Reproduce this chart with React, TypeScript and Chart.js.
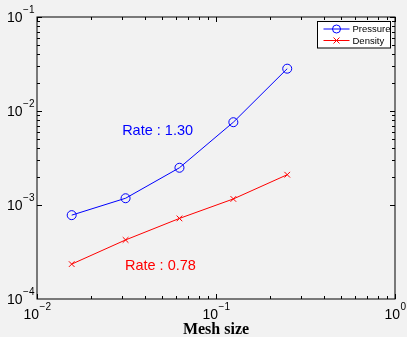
import React, { useEffect, useRef } from "react";
import { Chart, registerables } from "chart.js";

Chart.register(...registerables);

// ---- data ----
const meshSizes = [1 / 64, 1 / 32, 1 / 16, 1 / 8, 1 / 4];
const pressureErrors = [7.8e-4, 1.18e-3, 2.49e-3, 7.6e-3, 2.82e-2];
const densityErrors = [2.35e-4, 4.25e-4, 7.2e-4, 1.16e-3, 2.1e-3];
const seriesLabels = ["Pressure", "Density"];
const xTickExponents = [-2, -1, 0];
const yTickExponents = [-4, -3, -2, -1];
const xTitle = "Mesh size";
const rateTexts = ["Rate : 1.30", "Rate : 0.78"];
const rateAnchorX = [0.0299, 0.031];
const rateAnchorY = [6.1e-3, 2.26e-4];

// ---- styles ----
const BLUE = "#0000ff";
const RED = "#ff0000";
const BG = "#f2f2f2";
const SANS = "'Liberation Sans', Arial, Helvetica, sans-serif";
const SERIF = "'Liberation Serif', 'Times New Roman', serif";

function drawPowerLabel(ctx: CanvasRenderingContext2D, exp: number, x: number, baseY: number, align: "center" | "right") {
  const base = "10";
  const sup = exp < 0 ? "\u2212" + Math.abs(exp) : String(exp);
  ctx.font = `14px ${SANS}`;
  const wb = ctx.measureText(base).width;
  ctx.font = `10px ${SANS}`;
  const ws = ctx.measureText(sup).width;
  const total = wb + ws;
  const left = align === "center" ? x - total / 2 : x - total;
  ctx.textAlign = "left";
  ctx.textBaseline = "alphabetic";
  ctx.font = `14px ${SANS}`;
  ctx.fillText(base, left, baseY);
  ctx.font = `10px ${SANS}`;
  ctx.fillText(sup, left + wb + 0.5, baseY - 9.5);
}

const matlabPlugin = {
  id: "matlabStyle",
  beforeDraw(chart: any) {
    const ctx = chart.ctx as CanvasRenderingContext2D;
    ctx.save();
    ctx.fillStyle = BG;
    ctx.fillRect(0, 0, chart.width, chart.height);
    ctx.restore();
  },
  afterDraw(chart: any) {
    const ctx = chart.ctx as CanvasRenderingContext2D;
    const a = chart.chartArea;
    const xs = chart.scales.x;
    const ys = chart.scales.y;
    ctx.save();
    ctx.strokeStyle = "#000";
    ctx.lineWidth = 1;
    ctx.strokeRect(a.left, a.top, a.right - a.left, a.bottom - a.top);

    // ticks (inward, all four sides)
    ctx.beginPath();
    for (let e = -3; e <= 1; e++) {
      for (let m = 1; m <= 9; m++) {
        const v = m * Math.pow(10, e);
        if (v >= xs.min * 0.9999 && v <= xs.max * 1.0001) {
          const px = Math.round(xs.getPixelForValue(v)) + 0.5;
          const len = m === 1 ? 5 : 3;
          ctx.moveTo(px, a.bottom);
          ctx.lineTo(px, a.bottom - len);
          ctx.moveTo(px, a.top);
          ctx.lineTo(px, a.top + len);
        }
        if (v >= ys.min * 0.9999 && v <= ys.max * 1.0001) {
          const py = Math.round(ys.getPixelForValue(v)) + 0.5;
          const len = m === 1 ? 5 : 3;
          ctx.moveTo(a.left, py);
          ctx.lineTo(a.left + len, py);
          ctx.moveTo(a.right, py);
          ctx.lineTo(a.right - len, py);
        }
      }
    }
    ctx.stroke();

    // tick labels
    ctx.fillStyle = "#000";
    xTickExponents.forEach((e) => {
      const px = xs.getPixelForValue(Math.pow(10, e));
      drawPowerLabel(ctx, e, px, a.bottom + 20, "center");
    });
    yTickExponents.forEach((e) => {
      const py = ys.getPixelForValue(Math.pow(10, e));
      drawPowerLabel(ctx, e, a.left - 3, py + 5, "right");
    });

    // x title
    ctx.font = `bold 16px ${SERIF}`;
    ctx.textAlign = "center";
    ctx.textBaseline = "alphabetic";
    ctx.fillText(xTitle, (a.left + a.right) / 2, 334);

    // rate annotations
    ctx.font = `14.5px ${SANS}`;
    ctx.textAlign = "left";
    ctx.textBaseline = "middle";
    const colors = [BLUE, RED];
    rateTexts.forEach((t, i) => {
      ctx.fillStyle = colors[i];
      ctx.fillText(t, xs.getPixelForValue(rateAnchorX[i]), ys.getPixelForValue(rateAnchorY[i]));
    });

    // legend (inside, top-right)
    const bx = a.right - 77.5;
    const by = a.top + 4.5;
    const bw = 73;
    const bh = 26.5;
    ctx.fillStyle = "#ffffff";
    ctx.fillRect(bx, by, bw, bh);
    ctx.strokeStyle = "#000";
    ctx.lineWidth = 1;
    ctx.strokeRect(bx, by, bw, bh);
    ctx.font = `9.5px ${SANS}`;
    ctx.textBaseline = "middle";
    ctx.textAlign = "left";
    chart.data.datasets.forEach((ds: any, i: number) => {
      const cy = by + 7.5 + i * 11.5;
      const x0 = bx + 6;
      const x1 = bx + 32;
      const mx = (x0 + x1) / 2;
      ctx.strokeStyle = ds.borderColor;
      ctx.lineWidth = 1;
      ctx.beginPath();
      ctx.moveTo(x0, cy);
      ctx.lineTo(x1, cy);
      ctx.stroke();
      ctx.beginPath();
      if (ds.pointStyle === "circle") {
        ctx.arc(mx, cy, 4, 0, Math.PI * 2);
      } else {
        const r = 3;
        ctx.moveTo(mx - r, cy - r);
        ctx.lineTo(mx + r, cy + r);
        ctx.moveTo(mx + r, cy - r);
        ctx.lineTo(mx - r, cy + r);
      }
      ctx.stroke();
      ctx.fillStyle = "#000";
      ctx.fillText(ds.label, x1 + 3, cy + 0.5);
    });
    ctx.restore();
  },
};

export default function App() {
  const canvasRef = useRef<HTMLCanvasElement | null>(null);

  useEffect(() => {
    const canvas = canvasRef.current;
    if (!canvas) return;
    const chart = new Chart(canvas, {
      type: "scatter",
      data: {
        datasets: [
          {
            label: seriesLabels[0],
            data: meshSizes.map((x, i) => ({ x, y: pressureErrors[i] })),
            showLine: true,
            borderColor: BLUE,
            backgroundColor: "rgba(0,0,0,0)",
            borderWidth: 1,
            pointStyle: "circle",
            pointRadius: 4.5,
            pointBorderWidth: 1,
            pointBackgroundColor: "rgba(0,0,0,0)",
            pointBorderColor: BLUE,
          },
          {
            label: seriesLabels[1],
            data: meshSizes.map((x, i) => ({ x, y: densityErrors[i] })),
            showLine: true,
            borderColor: RED,
            backgroundColor: "rgba(0,0,0,0)",
            borderWidth: 1,
            pointStyle: "crossRot",
            pointRadius: 4,
            pointBorderWidth: 1,
            pointBorderColor: RED,
          },
        ],
      },
      options: {
        responsive: false,
        animation: false,
        layout: { padding: { top: 17, right: 12, left: 0, bottom: 0 } },
        plugins: {
          legend: { display: false },
          tooltip: { enabled: false },
          title: { display: false },
        },
        scales: {
          x: {
            type: "logarithmic",
            min: 0.01,
            max: 1,
            ticks: { display: false },
            grid: { display: false },
            border: { display: false },
            afterFit: (s: any) => {
              s.height = 38;
            },
          },
          y: {
            type: "logarithmic",
            min: 1e-4,
            max: 0.1,
            ticks: { display: false },
            grid: { display: false },
            border: { display: false },
            afterFit: (s: any) => {
              s.width = 37;
            },
          },
        },
      } as any,
      plugins: [matlabPlugin],
    });
    return () => chart.destroy();
  }, []);

  return (
    <div style={{ position: "absolute", left: 0, top: 0, width: 407, height: 337, background: BG }}>
      <canvas ref={canvasRef} width={407} height={337} style={{ display: "block" }} />
    </div>
  );
}
